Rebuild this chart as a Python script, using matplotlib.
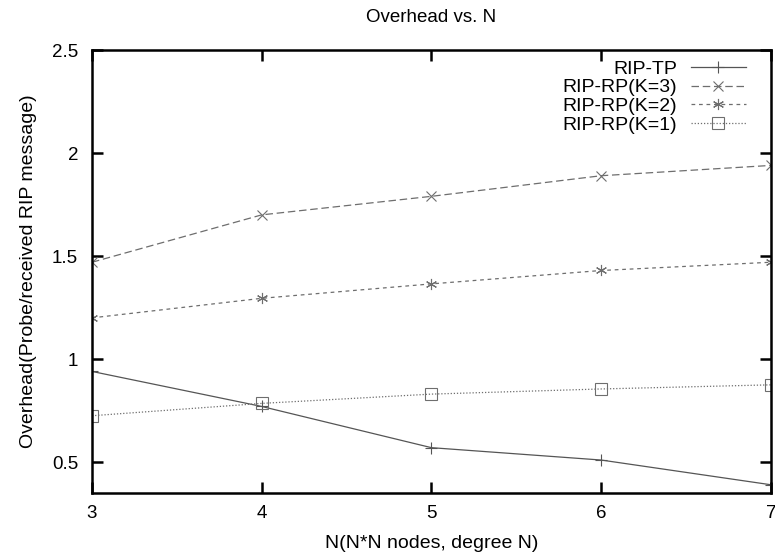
import matplotlib
matplotlib.use('Agg')
import matplotlib.pyplot as plt

plt.rcParams['font.family'] = ['Liberation Sans', 'DejaVu Sans']

n_values = [3, 4, 5, 6, 7]
rip_tp = [0.94, 0.77, 0.57, 0.51, 0.39]
rip_rp_k3 = [1.47, 1.70, 1.79, 1.89, 1.94]
rip_rp_k2 = [1.20, 1.295, 1.365, 1.43, 1.47]
rip_rp_k1 = [0.725, 0.785, 0.83, 0.855, 0.875]

fig = plt.figure(figsize=(7.75, 5.53), dpi=100)
ax = fig.add_axes([0.1187, 0.1085, 0.876, 0.801])

dark = '#555555'
light = '#6e6e6e'
ax.plot(n_values, rip_tp, '-', color=dark, lw=0.9, marker='+', ms=8, mew=0.8, label='RIP-TP')
ax.plot(n_values, rip_rp_k3, color=light, lw=0.9, ls=(0, (6, 3)), marker='x', ms=7, mew=0.8, label='RIP-RP(K=3)')
ax.plot(n_values, rip_rp_k2, color=light, lw=0.9, ls=(0, (3, 3)), marker=(6, 2, 0), ms=8, mew=0.8, label='RIP-RP(K=2)')
ax.plot(n_values, rip_rp_k1, color=light, lw=0.9, ls=(0, (1, 1.5)), marker='s', ms=8, mew=0.8, mfc='none', label='RIP-RP(K=1)')

ax.set_xlim(3, 7)
ax.set_ylim(0.35, 2.5)
ax.set_xticks(n_values)
ax.set_yticks([0.5, 1, 1.5, 2, 2.5])
ax.set_yticklabels(['0.5', '1', '1.5', '2', '2.5'])
ax.tick_params(direction='in', top=True, right=True, length=8, width=1.8, labelsize=13.5)
ax.tick_params(axis='y', pad=10)
ax.tick_params(axis='x', pad=9)
for s in ax.spines.values():
    s.set_linewidth(1.8)

ax.set_title('Overhead vs. N', fontsize=13.5, pad=20)
ax.set_xlabel('N(N*N nodes, degree N)', fontsize=14, labelpad=9)
ax.set_ylabel('Overhead(Probe/received RIP message)', fontsize=14, labelpad=11)

ax.legend(loc='upper right', frameon=False, markerfirst=False, fontsize=14,
          handlelength=2.85, handletextpad=0.7, labelspacing=0.06,
          borderaxespad=0.0, bbox_to_anchor=(0.975, 0.995))

plt.savefig('out.png', dpi=100)
plt.close()
